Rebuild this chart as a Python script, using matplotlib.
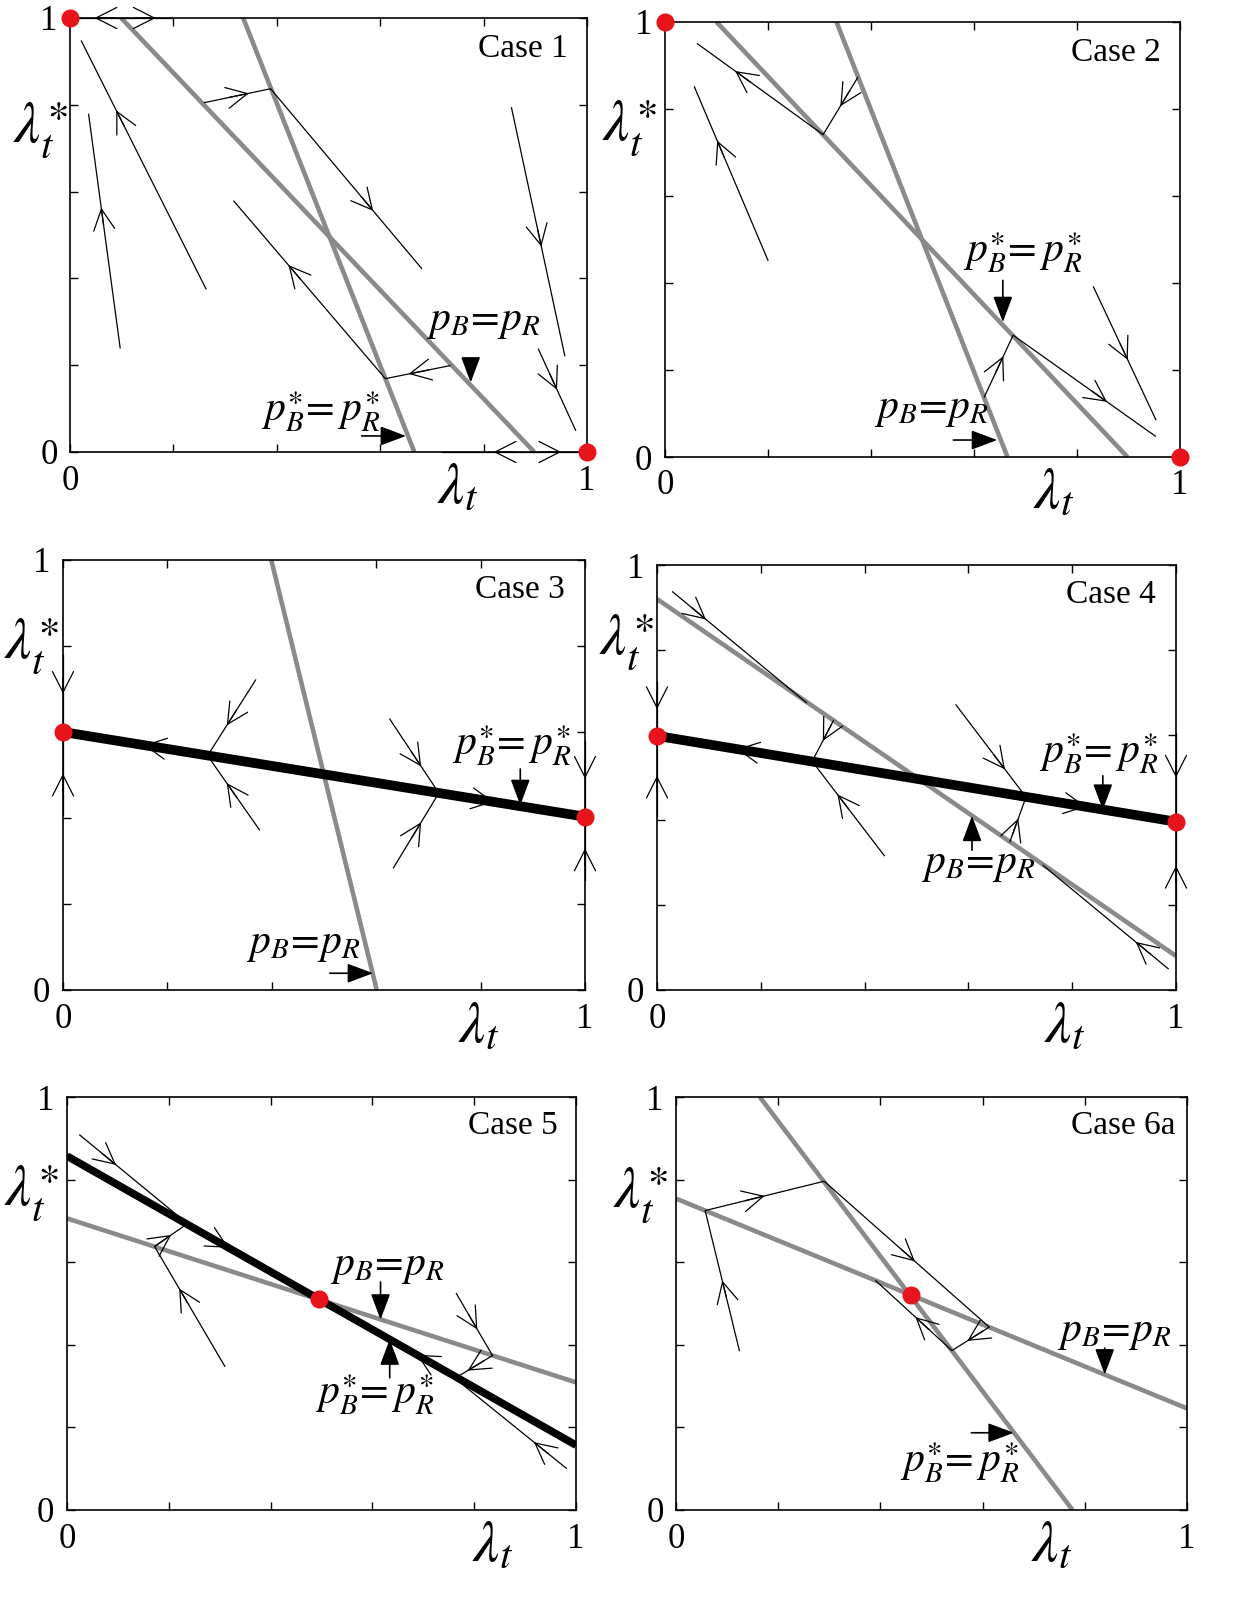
import numpy as np
import matplotlib
matplotlib.use('Agg')
import matplotlib.pyplot as plt

plt.rcParams['mathtext.fontset'] = 'stix'
plt.rcParams['font.family'] = ['Liberation Serif', 'DejaVu Serif']

GRAY = '#8a8a8a'
RED = '#e8141c'
PB_EQ = r'$p_B\!=\!p_R$'
PBS_EQ = r'$p_B^{\ast}\!=p_R^{\ast}$'

# ---- data (unit square coordinates) ----
# each flow: x points, y points (in flow order), arrowheads as (segment, fraction)

# Case 1
c1_gray = [([0.099, 0.898], [1.0, 0.0]), ([0.335, 0.666], [1.0, 0.0])]
c1_black = []
c1_dots = ([0.0, 1.0], [1.0, 0.0])
c1_flows = [
    ([0.263, 0.022], [0.376, 0.947], [(0, 0.72)]),
    ([0.097, 0.036], [0.240, 0.778], [(0, 0.60)]),
    ([0.260, 0.388, 0.680], [0.805, 0.837, 0.423], [(0, 0.67), (1, 0.68)]),
    ([0.735, 0.610, 0.317], [0.199, 0.169, 0.578], [(0, 0.64), (1, 0.64)]),
    ([0.854, 0.957], [0.793, 0.222], [(0, 0.56)]),
    ([0.906, 0.978], [0.237, 0.050], [(0, 0.50)]),
    ([0.099, 0.0], [1.0, 1.0], [(0, 0.52)]),
    ([0.099, 0.200], [1.0, 1.0], [(0, 0.66)]),
    ([0.898, 0.720], [0.0, 0.0], [(0, 0.44)]),
    ([0.898, 1.0], [0.0, 0.0], [(0, 0.51)]),
]
c1_texts = [(PB_EQ, 0.800, 0.300), (PBS_EQ, 0.485, 0.092)]
c1_pointers = [((0.775, 0.214), (0.775, 0.160)), ((0.564, 0.037), (0.650, 0.037))]

# Case 2
c2_gray = [([0.100, 0.898], [1.0, 0.0]), ([0.333, 0.665], [1.0, 0.0])]
c2_black = []
c2_dots = ([0.0, 1.0], [1.0, 0.0])
c2_flows = [
    ([0.374, 0.307, 0.063], [0.872, 0.741, 0.950], [(0, 0.5), (1, 0.70)]),
    ([0.200, 0.057], [0.452, 0.851], [(0, 0.69)]),
    ([0.620, 0.676, 0.952], [0.138, 0.280, 0.048], [(0, 0.66), (1, 0.66)]),
    ([0.832, 0.953], [0.391, 0.086], [(0, 0.55)]),
]
c2_texts = [(PBS_EQ, 0.694, 0.470), (PB_EQ, 0.516, 0.108)]
c2_pointers = [((0.656, 0.406), (0.656, 0.310)), ((0.560, 0.039), (0.645, 0.039))]

# Case 3
c3_gray = [([0.399, 0.601], [1.0, 0.0])]
c3_black = [([0.0, 1.0], [0.600, 0.403])]
c3_dots = ([0.0, 1.0], [0.600, 0.403])
c3_flows = [
    ([0.369, 0.277], [0.721, 0.545], [(0, 0.60)]),
    ([0.376, 0.277], [0.373, 0.545], [(0, 0.63)]),
    ([0.626, 0.720], [0.630, 0.458], [(0, 0.64)]),
    ([0.633, 0.720], [0.284, 0.458], [(0, 0.61)]),
    ([0.0, 0.0], [0.778, 0.600], [(0, 0.5)]),
    ([0.0, 0.0], [0.406, 0.600], [(0, 0.5)]),
    ([1.0, 1.0], [0.580, 0.403], [(0, 0.5)]),
    ([1.0, 1.0], [0.255, 0.403], [(0, 0.5)]),
    ([0.500, 0.0], [0.5015, 0.600], [(0, 0.69)]),
    ([0.500, 1.0], [0.5015, 0.403], [(0, 0.65)]),
]
c3_texts = [(PBS_EQ, 0.860, 0.568), (PB_EQ, 0.461, 0.106)]
c3_pointers = [((0.876, 0.514), (0.876, 0.430)), ((0.511, 0.039), (0.594, 0.039))]

# Case 4
c4_gray = [([0.0, 1.0], [0.920, 0.080])]
c4_black = [([0.0, 1.0], [0.598, 0.396])]
c4_dots = ([0.0, 1.0], [0.598, 0.396])
c4_flows = [
    ([0.030, 0.288], [0.937, 0.676], [(0, 0.25)]),
    ([0.340, 0.299], [0.634, 0.538], [(0, 0.50)]),
    ([0.438, 0.299], [0.316, 0.538], [(0, 0.65)]),
    ([0.576, 0.711], [0.671, 0.454], [(0, 0.70)]),
    ([0.680, 0.711], [0.349, 0.454], [(0, 0.52)]),
    ([0.985, 0.744], [0.050, 0.293], [(0, 0.26)]),
    ([0.0, 0.0], [0.724, 0.598], [(0, 0.5)]),
    ([0.0, 0.0], [0.410, 0.598], [(0, 0.5)]),
    ([1.0, 1.0], [0.604, 0.396], [(0, 0.5)]),
    ([1.0, 1.0], [0.188, 0.396], [(0, 0.5)]),
    ([0.505, 0.0], [0.496, 0.598], [(0, 0.695)]),
    ([0.505, 1.0], [0.496, 0.396], [(0, 0.65)]),
]
c4_texts = [(PBS_EQ, 0.852, 0.555), (PB_EQ, 0.618, 0.295)]
c4_pointers = [((0.859, 0.504), (0.859, 0.424)), ((0.607, 0.329), (0.607, 0.410))]

# Case 5
c5_gray = [([0.0, 1.0], [0.706, 0.309])]
c5_black = [([0.0, 1.0], [0.857, 0.157])]
c5_dots = ([0.496], [0.510])
c5_flows = [
    ([0.025, 0.235], [0.908, 0.695], [(0, 0.34)]),
    ([0.310, 0.172, 0.235], [0.348, 0.638, 0.692], [(0, 0.65), (1, 0.52)]),
    ([0.0, 0.496], [0.857, 0.510], [(0, 0.64)]),
    ([0.765, 0.836], [0.524, 0.374], [(0, 0.58)]),
    ([0.836, 0.765], [0.374, 0.321], [(0, 0.69)]),
    ([1.0, 0.496], [0.157, 0.510], [(0, 0.62)]),
    ([0.981, 0.769], [0.101, 0.312], [(0, 0.30)]),
]
c5_texts = [(PB_EQ, 0.630, 0.590), (PBS_EQ, 0.604, 0.280)]
c5_pointers = [((0.616, 0.552), (0.616, 0.461)), ((0.634, 0.320), (0.634, 0.413))]

# Case 6a
c6_gray = [([0.0, 1.0], [0.754, 0.246]), ([0.164, 0.776], [1.0, 0.0])]
c6_black = []
c6_dots = ([0.459], [0.520])
c6_flows = [
    ([0.124, 0.057, 0.290, 0.613, 0.540, 0.391],
     [0.386, 0.725, 0.796, 0.443, 0.386, 0.555],
     [(0, 0.5), (1, 0.5), (2, 0.55), (3, 0.59), (4, 0.48)]),
]
c6_texts = [(PB_EQ, 0.858, 0.430), (PBS_EQ, 0.555, 0.115)]
c6_pointers = [((0.839, 0.392), (0.839, 0.328)), ((0.578, 0.187), (0.661, 0.187))]

case_names = ['Case 1', 'Case 2', 'Case 3', 'Case 4', 'Case 5', 'Case 6a']

cases = [
    (c1_gray, c1_black, c1_dots, c1_flows, c1_texts, c1_pointers),
    (c2_gray, c2_black, c2_dots, c2_flows, c2_texts, c2_pointers),
    (c3_gray, c3_black, c3_dots, c3_flows, c3_texts, c3_pointers),
    (c4_gray, c4_black, c4_dots, c4_flows, c4_texts, c4_pointers),
    (c5_gray, c5_black, c5_dots, c5_flows, c5_texts, c5_pointers),
    (c6_gray, c6_black, c6_dots, c6_flows, c6_texts, c6_pointers),
]

# layout: axes rectangles (pixels) and where the axis labels sit
W, H = 1233.0, 1616.0
boxes_px = [(70, 18, 587, 452), (665, 22, 1180, 457),
            (63, 560, 585, 990), (657, 565, 1176, 990),
            (67, 1097, 576, 1510), (676, 1097, 1187, 1510)]
ylab_pos = [(-0.058, 0.742), (-0.07, 0.756), (-0.06, 0.80),
            (-0.06, 0.817), (-0.07, 0.767), (-0.07, 0.763)]
xlab_pos = [(0.75, -0.085), (0.754, -0.085), (0.797, -0.09),
            (0.785, -0.09), (0.836, -0.09), (0.735, -0.09)]
black_lw = [0, 0, 7.0, 7.0, 5.5, 0]


def add_flow(ax, xs, ys, marks):
    ax.plot(xs, ys, color='k', lw=0.9, clip_on=False, zorder=3)
    for seg, t in marks:
        x0, y0, x1, y1 = xs[seg], ys[seg], xs[seg + 1], ys[seg + 1]
        xa, ya = x0 + t * (x1 - x0), y0 + t * (y1 - y0)
        L = np.hypot(x1 - x0, y1 - y0)
        xb, yb = xa - 0.04 * (x1 - x0) / L, ya - 0.04 * (y1 - y0) / L
        ax.annotate('', xy=(xa, ya), xytext=(xb, yb),
                    arrowprops=dict(arrowstyle='->,head_length=0.75,head_width=0.38',
                                    lw=0.9, color='k', shrinkA=0, shrinkB=0,
                                    mutation_scale=20), zorder=4)


fig = plt.figure(figsize=(W / 100, H / 100), dpi=100)

for i, (gray, black, dots, flows, texts, pointers) in enumerate(cases):
    l, t, r, b = boxes_px[i]
    ax = fig.add_axes([l / W, 1 - b / H, (r - l) / W, (b - t) / H])
    ax.set_xlim(0, 1)
    ax.set_ylim(0, 1)
    ticks = np.arange(0, 1.01, 0.2)
    ax.set_xticks(ticks)
    ax.set_yticks(ticks)
    ax.set_xticklabels(['0', '', '', '', '', '1'], fontsize=25)
    ax.set_yticklabels(['0', '', '', '', '', '1'], fontsize=25)
    ax.tick_params(direction='in', length=6, width=1, top=True, right=True, pad=9)
    for sp in ax.spines.values():
        sp.set_linewidth(1.2)

    for xs, ys in gray:
        ax.plot(xs, ys, color=GRAY, lw=3.3, solid_capstyle='butt', zorder=2)
    for xs, ys in black:
        ax.plot(xs, ys, color='k', lw=black_lw[i], solid_capstyle='butt', zorder=2)
    for xs, ys, marks in flows:
        add_flow(ax, xs, ys, marks)
    ax.plot(dots[0], dots[1], 'o', color=RED, ms=12, clip_on=False, zorder=6)

    for s, x, y in texts:
        ax.text(x, y, s, fontsize=30, ha='center', va='center', zorder=7)
    for (x0, y0), (x1, y1) in pointers:
        ax.annotate('', xy=(x1, y1), xytext=(x0, y0),
                    arrowprops=dict(arrowstyle='-|>,head_length=0.8,head_width=0.3',
                                    lw=1.2, color='k', shrinkA=0, shrinkB=0,
                                    mutation_scale=20), zorder=7)

    ax.text(0.875, 0.93, case_names[i], fontsize=24, ha='center', va='center',
            transform=ax.transAxes)
    ax.text(ylab_pos[i][0], ylab_pos[i][1], r'$\lambda_t^{\ast}$', fontsize=42,
            ha='center', va='center', transform=ax.transAxes)
    ax.text(xlab_pos[i][0], xlab_pos[i][1], r'$\lambda_t$', fontsize=42,
            ha='center', va='center', transform=ax.transAxes)

fig.savefig('out.png', dpi=100)
